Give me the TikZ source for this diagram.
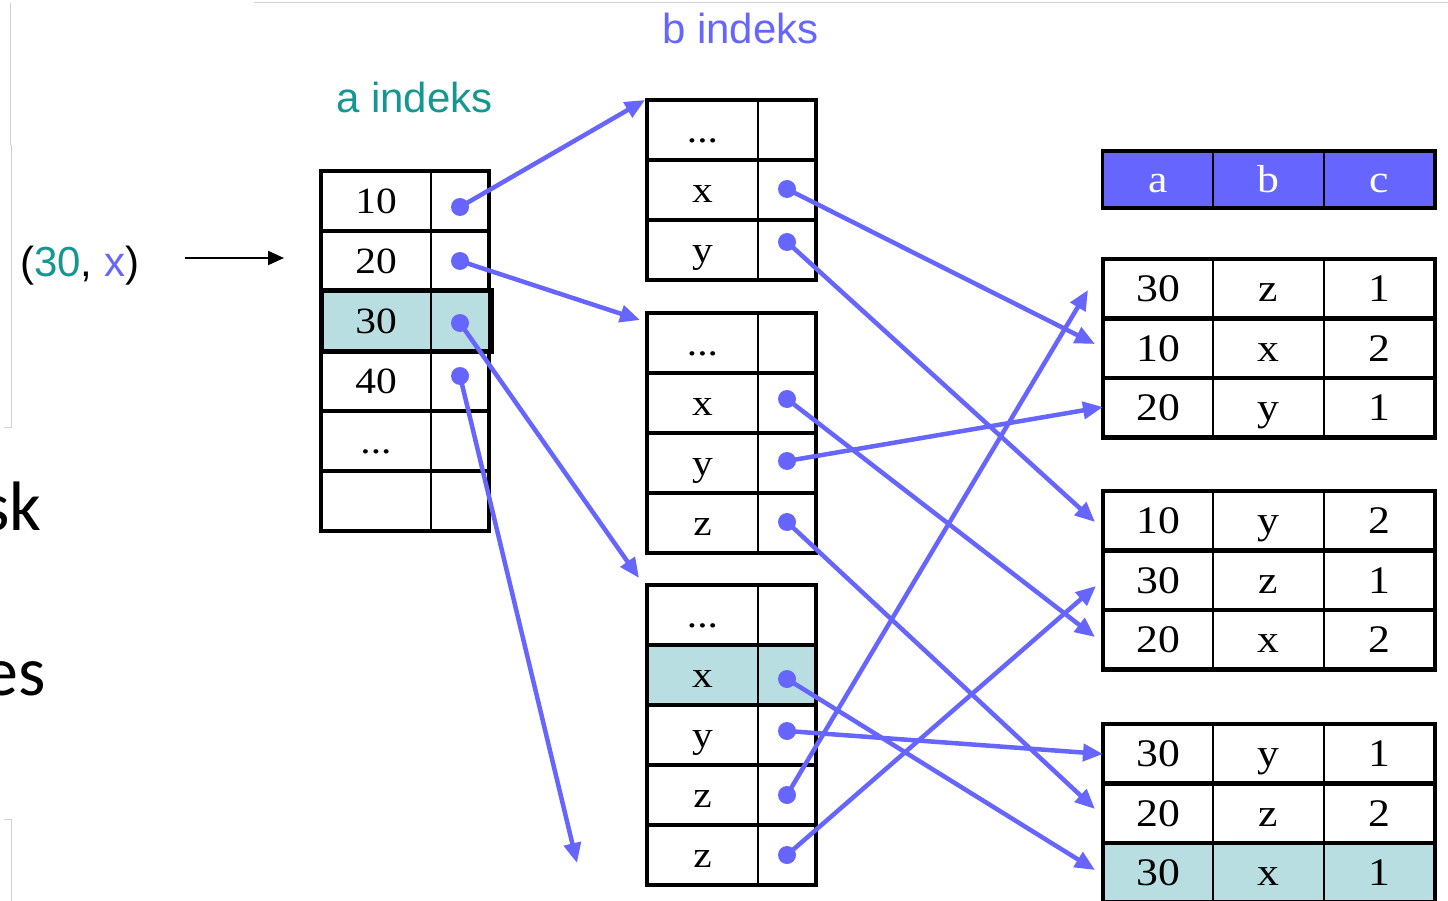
\documentclass[tikz,border=0pt]{standalone}
\usepackage{fontspec}
\setmainfont{Liberation Serif}
\newfontfamily\sansf{Liberation Sans}
\newfontfamily\calib{Carlito}
\newfontfamily\tabf[FakeStretch=1.12]{Liberation Serif}
\usetikzlibrary{arrows.meta}
\definecolor{ublue}{RGB}{102,102,255}
\definecolor{uteal}{RGB}{20,150,145}
\definecolor{hl}{RGB}{184,222,225}
\newcommand{\tdots}{...}
\begin{document}
\begin{tikzpicture}[x=1pt,y=-1pt,
  cellAB/.style={rectangle, draw, line width=2pt, inner sep=0pt, outer sep=0pt, minimum height=60pt, text height=25pt, text depth=0pt, font=\tabf\fontsize{37}{37}\selectfont},
  wLA/.style={minimum width=110pt}, wLB/.style={minimum width=111pt}, wR/.style={minimum width=58pt},
  cellC/.style={rectangle, draw, line width=2pt, inner sep=0pt, outer sep=0pt, minimum height=59.5pt, minimum width=111pt, text height=26pt, text depth=0pt, font=\tabf\fontsize{39}{39}\selectfont},
  rowbox/.style={draw, line width=4.5pt},
  dot/.style={circle, fill=ublue, inner sep=0pt, minimum size=18pt},
  link/.style={draw=ublue, line width=4.5pt, -{Triangle[length=20pt,width=17pt]}},
  frame/.style={draw=black!18, line width=1pt},
  label/.style={anchor=base west, inner sep=0pt, font=\sansf\fontsize{42}{42}\selectfont}
]
\useasboundingbox (0,0) rectangle (1448,901);
\clip (0,0) rectangle (1448,901);

% faint screenshot frame lines
\draw[frame] (10,3) -- (10,145);
\draw[frame] (11,145) -- (11,427) -- (4,427);
\draw[frame] (4,819) -- (11,819) -- (11,901);
\draw[frame] (254,3) -- (1448,3);

% cut-off slide text
\node[font=\calib\fontsize{70}{70}\selectfont, anchor=base east, inner sep=0pt] (sk) at (42,530) {sk};
\node[font=\calib\fontsize{70}{70}\selectfont, anchor=base east, inner sep=0pt] (es) at (46,695) {es};

% labels
\node[label, text=uteal] (alab) at (336,113) {a indeks};
\node[label, text=ublue] (blab) at (662,44) {b indeks};
\node[label] (tuple) at (20,277) {(\textcolor{uteal}{30}, \textcolor{ublue}{x})};
\coordinate (qs) at (185,258);
\coordinate (qe) at (284,258);
\draw[line width=2pt, -{Triangle[length=16pt,width=14pt]}] (qs) -- (qe);

% table A
\node[cellAB,wLA] (aL1) at (376,201) {10};  \node[cellAB,wR] (aR1) at (460,201) {};
\node[cellAB,wLA] (aL2) at (376,261) {20};  \node[cellAB,wR] (aR2) at (460,261) {};
\node[cellAB,wLA,fill=hl] (aL3) at (376,321) {30};  \node[cellAB,wR,fill=hl] (aR3) at (460,321) {};
\node[cellAB,wLA] (aL4) at (376,381) {40};  \node[cellAB,wR] (aR4) at (460,381) {};
\node[cellAB,wLA] (aL5) at (376,441) {\tdots}; \node[cellAB,wR] (aR5) at (460,441) {};
\node[cellAB,wLA] (aL6) at (376,501) {};    \node[cellAB,wR] (aR6) at (460,501) {};
\foreach \i in {1,2,4,5,6}{\draw[rowbox] (aL\i.north west) rectangle (aR\i.south east);}
\draw[rowbox, line width=5pt] (aL3.north west) rectangle ([xshift=2pt]aR3.south east);

% table B
\foreach \n/\y/\t in {11/130/\tdots, 12/190/x, 13/250/y,
                      21/343/\tdots, 22/403/x, 23/463/y, 24/523/z,
                      31/615/\tdots, 33/735/y, 34/795/z, 35/855/z}{
  \node[cellAB,wLB] (bL\n) at (702.5,\y) {\t};
  \node[cellAB,wR] (bR\n) at (787,\y) {};
  \draw[rowbox] (bL\n.north west) rectangle (bR\n.south east);
}
\node[cellAB,wLB,fill=hl] (bL32) at (702.5,675) {x};
\node[cellAB,wR,fill=hl] (bR32) at (787,675) {};
\draw[rowbox] (bL32.north west) rectangle (bR32.south east);

% table C
\foreach \n/\t in {a/1158, b/1268.5, c/1379.5}{
  \node[cellC, fill=ublue, text=white, minimum height=57pt] (h\n) at (\t,179.5) {\n};
}
\draw[rowbox, line width=3.5pt] (ha.north west) rectangle (hc.south east);
\foreach \n/\y/\a/\b/\c in {11/288.75/30/z/1, 12/348.25/10/x/2, 13/407.75/20/y/1,
                            21/520.75/10/y/2, 22/580.25/30/z/1, 23/639.75/20/x/2,
                            31/753.75/30/y/1, 32/813.25/20/z/2}{
  \node[cellC, minimum width=110pt] (r\n-a) at (1158,\y) {\a};
  \node[cellC] (r\n-b) at (1268.5,\y) {\b};
  \node[cellC] (r\n-c) at (1379.5,\y) {\c};
  \draw[rowbox] (r\n-a.north west) rectangle (r\n-c.south east);
}
\node[cellC, minimum width=110pt, fill=hl] (r33-a) at (1158,872.75) {30};
\node[cellC, fill=hl] (r33-b) at (1268.5,872.75) {x};
\node[cellC, fill=hl] (r33-c) at (1379.5,872.75) {1};
\draw[rowbox] (r33-a.north west) rectangle (r33-c.south east);

% dots
\node[dot] (ad1) at (460,207) {};
\node[dot] (ad2) at (460,261) {};
\node[dot] (ad3) at (460,323) {};
\node[dot] (ad4) at (460,376) {};
\node[dot] (bd12) at (787,189) {};
\node[dot] (bd13) at (787,242) {};
\node[dot] (bd22) at (787,399) {};
\node[dot] (bd23) at (787,461) {};
\node[dot] (bd24) at (787,522) {};
\node[dot] (bd32) at (787,679) {};
\node[dot] (bd33) at (787,731) {};
\node[dot] (bd34) at (787,795) {};
\node[dot] (bd35) at (787,855) {};

% arrow targets
\coordinate (tB1) at (645,100);
\coordinate (tB2) at (640,320);
\coordinate (tB3) at (639,578);
\coordinate (tB4) at (577,863);
\coordinate (t12) at (1095,344);
\coordinate (t21) at (1095,522);
\coordinate (t23) at (1095,637);
\coordinate (t13) at (1103,407);
\coordinate (t32) at (1095,809);
\coordinate (t33) at (1095,870);
\coordinate (t31) at (1103,754);
\coordinate (t11) at (1088,290);
\coordinate (t22) at (1096,586);

% links
\draw[link] (ad1.center) -- (tB1);
\draw[link] (ad2.center) -- (tB2);
\draw[link] (ad3.center) -- (tB3);
\draw[link] (ad4.center) -- (tB4);
\draw[link] (bd12.center) -- (t12);
\draw[link] (bd13.center) -- (t21);
\draw[link] (bd22.center) -- (t23);
\draw[link] (bd23.center) -- (t13);
\draw[link] (bd24.center) -- (t32);
\draw[link] (bd32.center) -- (t33);
\draw[link] (bd33.center) -- (t31);
\draw[link] (bd34.center) -- (t11);
\draw[link] (bd35.center) -- (t22);
\end{tikzpicture}
\end{document}
